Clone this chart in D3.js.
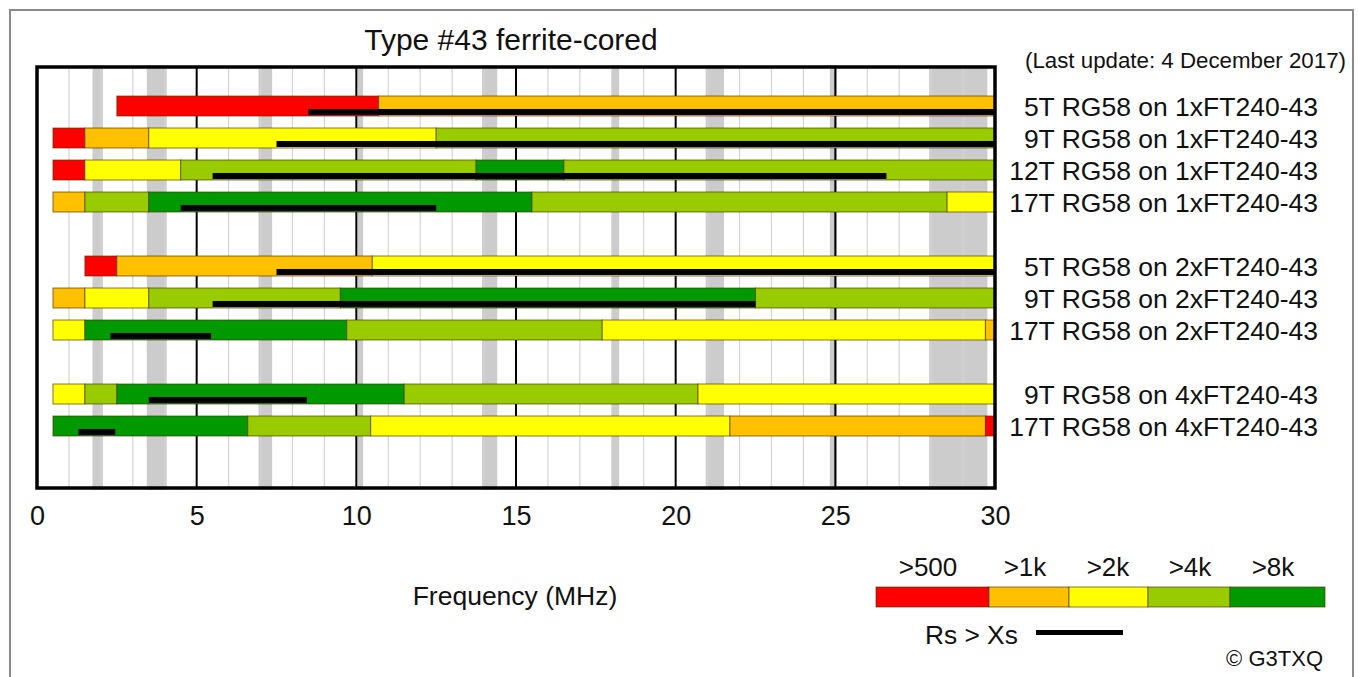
<!DOCTYPE html>
<html>
<head>
<meta charset="utf-8">
<script src="https://cdn.jsdelivr.net/npm/d3@7"></script>
<style>
  body { margin: 0; background: #fff; }
  svg { display: block; font-family: "Liberation Sans", Arial, sans-serif; }
</style>
</head>
<body>
<svg id="chart" width="1358" height="677"></svg>
<script>
// cable/core combinations, grouped as in the original
const groups = [
  ['5T RG58 on 1xFT240-43', '9T RG58 on 1xFT240-43', '12T RG58 on 1xFT240-43', '17T RG58 on 1xFT240-43'],
  ['5T RG58 on 2xFT240-43', '9T RG58 on 2xFT240-43', '17T RG58 on 2xFT240-43'],
  ['9T RG58 on 4xFT240-43', '17T RG58 on 4xFT240-43'],
];

// frequency edges (MHz) of each coloured run, per row
const runEdges = [
  [2.5, 10.7, 30],
  [0.5, 1.5, 3.5, 12.5, 30],
  [0.5, 1.5, 4.5, 13.75, 16.5, 30],
  [0.5, 1.5, 3.5, 15.5, 28.5, 30],
  [1.5, 2.5, 10.5, 30],
  [0.5, 1.5, 3.5, 9.5, 22.5, 30],
  [0.5, 1.5, 9.7, 17.7, 29.7, 30],
  [0.5, 1.5, 2.5, 11.5, 20.7, 30],
  [0.5, 6.6, 10.45, 21.7, 29.7, 30],
];

// common-mode impedance class of each run
const runLevels = [
  ['>500', '>1k'],
  ['>500', '>1k', '>2k', '>4k'],
  ['>500', '>2k', '>4k', '>8k', '>4k'],
  ['>1k', '>4k', '>8k', '>4k', '>2k'],
  ['>500', '>1k', '>2k'],
  ['>1k', '>2k', '>4k', '>8k', '>4k'],
  ['>2k', '>8k', '>4k', '>2k', '>1k'],
  ['>2k', '>4k', '>8k', '>4k', '>2k'],
  ['>8k', '>4k', '>2k', '>1k', '>500'],
];

// range where Rs > Xs
const rsAboveXs = [
  [8.5, 30], [7.5, 30], [5.5, 26.6], [4.5, 12.5],
  [7.5, 30], [5.5, 22.5], [2.3, 5.45],
  [3.5, 8.45], [1.3, 2.45],
];

const levels = ['>500', '>1k', '>2k', '>4k', '>8k'];
const levelColors = ['#ff0000', '#ffc000', '#ffff00', '#99cc00', '#009900'];

// amateur bands shaded in grey (MHz)
const hamBands = [
  [1.8, 2.0], [3.5, 4.0], [7.0, 7.3], [10.1, 10.15], [14.0, 14.35],
  [18.068, 18.168], [21.0, 21.45], [24.89, 24.99], [28.0, 29.7],
];
const xTicks = [0, 5, 10, 15, 20, 25, 30];

const svg = d3.select('#chart');
const color = d3.scaleOrdinal().domain(levels).range(levelColors);

const plot = { left: 37, right: 995, top: 67, bottom: 488 };
const x = d3.scaleLinear().domain([0, 30]).range([plot.left, plot.right]);
const y = d3.scaleLinear().domain([0, 10]).range([96, 416]);
const barH = 20;

// flatten groups into rows with a blank slot between groups
const rows = [];
let slot = 0;
groups.forEach((g) => {
  g.forEach((label) => rows.push({ label, slot: slot++ }));
  slot++;
});
rows.forEach((r, i) => {
  r.edges = runEdges[i];
  r.levels = runLevels[i];
  r.rs = rsAboveXs[i];
});

// outer page border
svg.append('rect')
  .attr('x', 10).attr('y', 10).attr('width', 1343).attr('height', 700)
  .attr('fill', 'none').attr('stroke', '#8a8a8a').attr('stroke-width', 2);

// ham bands
svg.append('g').selectAll('rect')
  .data(hamBands)
  .join('rect')
  .attr('x', (d) => x(d[0]))
  .attr('y', plot.top)
  .attr('width', (d) => x(d[1]) - x(d[0]))
  .attr('height', plot.bottom - plot.top)
  .attr('fill', '#cccccc')
  .attr('stroke', '#cccccc')
  .attr('stroke-width', 4);

// grid lines
const grid = svg.append('g');
grid.selectAll('line')
  .data(d3.range(1, 30))
  .join('line')
  .attr('x1', (d) => x(d)).attr('x2', (d) => x(d))
  .attr('y1', plot.top).attr('y2', plot.bottom)
  .attr('stroke', (d) => (d % 5 === 0 ? '#000' : '#d4d4d4'))
  .attr('stroke-width', (d) => (d % 5 === 0 ? 2 : 1.2));

// bars
const rowG = svg.append('g').selectAll('g')
  .data(rows)
  .join('g')
  .attr('transform', (d) => `translate(0,${y(d.slot)})`);

rowG.selectAll('rect.run')
  .data((d) => d.levels.map((lv, i) => ({ lv, x0: d.edges[i], x1: d.edges[i + 1] })))
  .join('rect')
  .attr('class', 'run')
  .attr('x', (d) => x(d.x0))
  .attr('y', 0)
  .attr('width', (d) => x(d.x1) - x(d.x0))
  .attr('height', barH)
  .attr('fill', (d) => color(d.lv))
  .attr('stroke', 'rgba(70,50,0,0.65)')
  .attr('stroke-width', 1);

rowG.append('rect')
  .attr('x', (d) => x(d.rs[0]))
  .attr('y', barH - 7)
  .attr('width', (d) => x(d.rs[1]) - x(d.rs[0]))
  .attr('height', 6)
  .attr('fill', '#000');

rowG.append('text')
  .attr('x', 1318)
  .attr('y', barH / 2)
  .attr('dy', '0.36em')
  .attr('text-anchor', 'end')
  .attr('font-size', 26.5)
  .attr('fill', '#111')
  .text((d) => d.label);

// plot frame
svg.append('rect')
  .attr('x', plot.left).attr('y', plot.top)
  .attr('width', plot.right - plot.left).attr('height', plot.bottom - plot.top)
  .attr('fill', 'none').attr('stroke', '#000').attr('stroke-width', 3.5);

// x axis labels
const axis = svg.append('g')
  .attr('transform', `translate(0,${plot.bottom})`)
  .call(d3.axisBottom(x).tickValues(xTicks).tickSize(0).tickPadding(18).tickFormat(d3.format('d')));
axis.select('.domain').remove();
axis.selectAll('text')
  .attr('font-size', 27)
  .attr('font-family', '"Liberation Sans", Arial, sans-serif')
  .attr('fill', '#111');

// titles
svg.append('text')
  .attr('x', 511).attr('y', 50)
  .attr('text-anchor', 'middle')
  .attr('font-size', 30)
  .attr('fill', '#111')
  .text('Type #43 ferrite-cored');

svg.append('text')
  .attr('x', 1346).attr('y', 68)
  .attr('text-anchor', 'end')
  .attr('font-size', 22.3)
  .attr('fill', '#111')
  .text('(Last update: 4 December 2017)');

svg.append('text')
  .attr('x', 515).attr('y', 605)
  .attr('text-anchor', 'middle')
  .attr('font-size', 26.5)
  .attr('fill', '#111')
  .text('Frequency (MHz)');

// legend
const legendEdges = [876, 989, 1069, 1148, 1230, 1325];
const legend = svg.append('g');
legend.selectAll('rect')
  .data(levels)
  .join('rect')
  .attr('x', (d, i) => legendEdges[i])
  .attr('y', 587)
  .attr('width', (d, i) => legendEdges[i + 1] - legendEdges[i])
  .attr('height', 20)
  .attr('fill', (d) => color(d))
  .attr('stroke', 'rgba(70,50,0,0.65)')
  .attr('stroke-width', 1);

const legendLabelX = [928, 1025, 1108, 1190, 1273];
legend.selectAll('text')
  .data(levels)
  .join('text')
  .attr('x', (d, i) => legendLabelX[i])
  .attr('y', 576)
  .attr('text-anchor', 'middle')
  .attr('font-size', 26)
  .attr('fill', '#111')
  .text((d) => d);

svg.append('text')
  .attr('x', 925).attr('y', 644)
  .attr('font-size', 26.3)
  .attr('fill', '#111')
  .text('Rs > Xs');

svg.append('line')
  .attr('x1', 1036).attr('x2', 1123)
  .attr('y1', 632.5).attr('y2', 632.5)
  .attr('stroke', '#000').attr('stroke-width', 5);

svg.append('text')
  .attr('x', 1323).attr('y', 666)
  .attr('text-anchor', 'end')
  .attr('font-size', 22)
  .attr('fill', '#111')
  .text('\u00a9 G3TXQ');
</script>
</body>
</html>
